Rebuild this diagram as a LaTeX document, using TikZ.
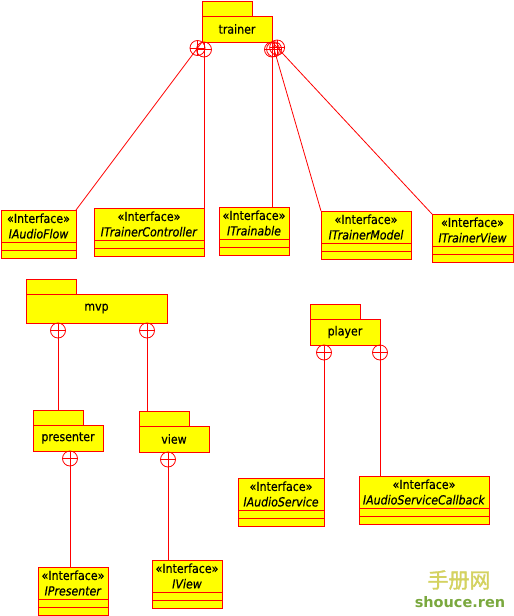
\documentclass[tikz,border=0pt]{standalone}
\usepackage{fontspec}
\setmainfont{DejaVu Sans}[FakeStretch=0.88, FakeBold=0.4]
\newfontfamily\cjkfont{Noto Sans CJK SC}[FakeBold=1.5]
\newfontfamily\wmfont{DejaVu Sans}
\usepackage{tikz}
\usetikzlibrary{calc}
\usetikzlibrary{positioning}

\definecolor{umlRed}{RGB}{255,0,0}
\definecolor{umlYellow}{RGB}{255,255,0}
\definecolor{wmYellow}{RGB}{212,210,96}
\definecolor{wmGreen}{RGB}{122,168,62}

\tikzset{
  umlBox/.style={draw=umlRed, fill=umlYellow, line width=0.9pt, rectangle,
    inner sep=0pt, outer sep=0pt},
  ifaceName/.style={umlBox, minimum height=32, align=center,
    font=\fontsize{12.5}{15.5}\selectfont},
  ifaceComp/.style={umlBox, minimum height=8},
  pkgBody/.style={umlBox, font=\fontsize{12.5}{14}\selectfont},
  pkgTab/.style={umlBox, minimum width=50, minimum height=15},
  nestLine/.style={draw=umlRed, line width=0.8pt},
}

\begin{document}
\begin{tikzpicture}[x=1pt, y=-1pt]

\fill[white] (0,0) rectangle (514,616);
\useasboundingbox (0,0) rectangle (514,616);

% --- packages ---
\foreach \nm/\px/\py/\bw/\bh in {trainer/202/1/70/26, mvp/26/279/141/29,
  presenter/33/410/70/26, view/139/411/70/26, player/310/304/70/26} {
  \node[pkgBody, minimum width=\bw, minimum height=\bh, anchor=north west]
    (\nm) at (\px,\py+15) {\nm};
  \node[pkgTab, anchor=south west] (\nm-tab) at (\nm.north west) {};
}

% --- interfaces ---
\foreach \nm/\px/\py/\bw in {IAudioFlow/1/210/75, ITrainerController/94/208/110,
  ITrainable/219/207/70, ITrainerModel/321/211/90, ITrainerView/432/214/81,
  IPresenter/38/567/70, IView/152/560/70,
  IAudioService/238/478/86, IAudioServiceCallback/359/476/130} {
  \node[ifaceName, minimum width=\bw, anchor=north west] (\nm) at (\px,\py)
    {«Interface»\\\textit{\nm}};
  \node[ifaceComp, minimum width=\bw, below=0pt of \nm] (\nm-attr) {};
  \node[ifaceComp, minimum width=\bw, below=0pt of \nm-attr] (\nm-ops) {};
}

% end points of the nesting lines
\coordinate (trn-l) at (trainer.south west);
\coordinate (trn-m) at (ITrainerController.north east |- trainer.south);
\coordinate (trn-r) at (trainer.south east);
\coordinate (itrb-top) at (trainer.south east |- ITrainable.north);
\coordinate (mvp-l) at (presenter-tab.north |- mvp.south);
\coordinate (view-top) at ([xshift=8pt]view-tab.north west);
\coordinate (mvp-r) at (view-top |- mvp.south);
\coordinate (pres-out) at ([xshift=2pt]presenter.south);
\coordinate (ipres-top) at (pres-out |- IPresenter.north);
\coordinate (view-out) at ([xshift=-6pt]view.south);
\coordinate (ivw-top) at (view-out |- IView.north);
\coordinate (ply-l) at (IAudioService.north east |- player.south);
\coordinate (ply-r) at (player.south east);
\coordinate (iasc-top) at (player.south east |- IAudioServiceCallback.north);

% --- nesting connectors ---
\foreach \pp/\cc in {trn-l/IAudioFlow.north east, trn-m/ITrainerController.north east,
  trn-r/itrb-top, trn-r/ITrainerModel.north west, trn-r/ITrainerView.north west,
  mvp-l/presenter-tab.north, mvp-r/view-top,
  pres-out/ipres-top, view-out/ivw-top,
  ply-l/IAudioService.north east, ply-r/iasc-top} {
  \draw[nestLine] (\pp) -- (\cc);
  \coordinate (nest-c) at ($(\pp)!7.5pt!(\cc)$);
  \draw[nestLine] (nest-c) circle[radius=7.5pt];
  \draw[nestLine] ([xshift=-7.5pt]nest-c) -- ([xshift=7.5pt]nest-c);
  \draw[nestLine] ([yshift=-7.5pt]nest-c) -- ([yshift=7.5pt]nest-c);
}

% watermark
\node[font=\cjkfont\fontsize{21}{21}\selectfont, text=wmYellow] (wm-cn) at (459,580) {手册网};
\node[font=\wmfont\bfseries\fontsize{14.5}{15}\selectfont, text=wmGreen] (wm-en) at (460,602) {shouce.ren};

\end{tikzpicture}
\end{document}
